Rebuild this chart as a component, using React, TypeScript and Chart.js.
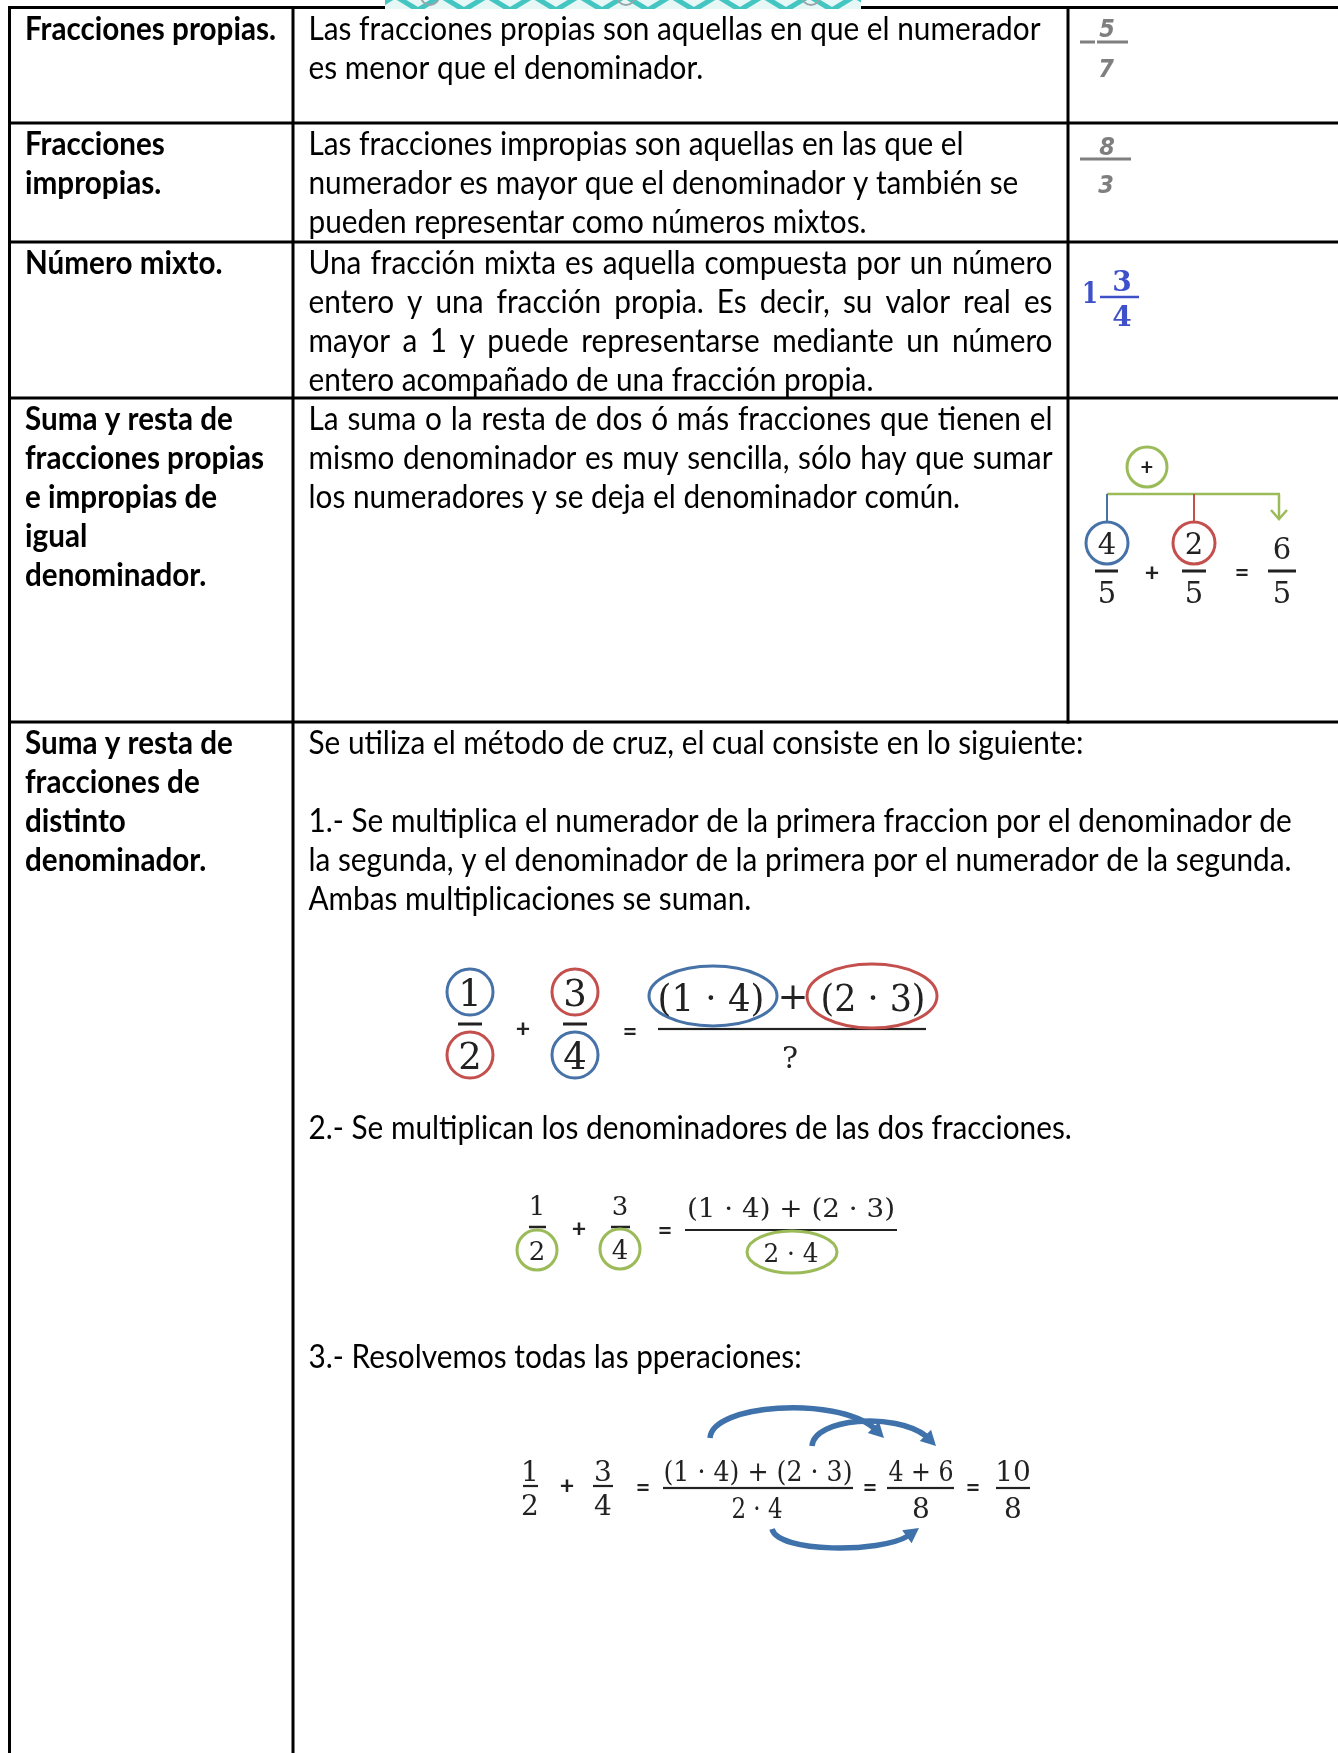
import React, { useEffect, useRef } from "react";
import { Chart, registerables } from "chart.js";

Chart.register(...registerables);

const W = 1338;
const H = 1753;

// ---------- DATA ----------
const rowLabels: string[][] = [
  ["Fracciones propias."],
  ["Fracciones", "impropias."],
  ["Número mixto."],
  ["Suma y resta de", "fracciones propias", "e impropias de", "igual", "denominador."],
  ["Suma y resta de", "fracciones de", "distinto", "denominador."],
];

const rowDescriptions: string[][] = [
  ["Las fracciones propias son aquellas en que el numerador", "es menor que el denominador."],
  [
    "Las fracciones impropias son aquellas en las que el",
    "numerador es mayor que el denominador y también se",
    "pueden representar como números mixtos.",
  ],
  [
    "Una fracción mixta es aquella compuesta por un número",
    "entero y una fracción propia. Es decir, su valor real es",
    "mayor a 1 y puede representarse mediante un número",
    "entero acompañado de una fracción propia.",
  ],
  [
    "La suma o la resta de dos ó más fracciones que tienen el",
    "mismo denominador es muy sencilla, sólo hay que sumar",
    "los numeradores y se deja el denominador común.",
  ],
];
const justifiedRows: boolean[] = [false, false, true, true];

const crossIntro: string[] = ["Se utiliza el método de cruz, el cual consiste en lo siguiente:"];
const crossStep1: string[] = [
  "1.- Se multiplica el numerador de la primera fraccion por el denominador de",
  "la segunda, y el denominador de la primera por el numerador de la segunda.",
  "Ambas multiplicaciones se suman.",
];
const crossStep2: string[] = ["2.- Se multiplican los denominadores de las dos fracciones."];
const crossStep3: string[] = ["3.- Resolvemos todas las pperaciones:"];

const properFraction: number[] = [5, 7];
const improperFraction: number[] = [8, 3];
const mixedNumber: number[] = [1, 3, 4];
const sameDenA: number[] = [4, 5];
const sameDenB: number[] = [2, 5];
const crossA: number[] = [1, 2];
const crossB: number[] = [3, 4];

// ---------- LAYOUT ----------
const colX = [9.5, 293, 1068];
const rowY = [7.5, 123, 242, 398, 722];
const LINE = 39.1;
const REG = '32px Lato';
const BOLD = 'bold 32px Lato';
const MATH = '"DejaVu Serif"';
const SIGN = 'bold 25px Lato';
const INK = '#222';
const BLUE = '#4672a8';
const RED = '#c4504e';
const GREEN = '#9bbb59';
const ARROW = '#3f72aa';

const docPlugin = {
  id: 'docTable',
  beforeDraw(chart: any) {
    const ctx = chart.ctx as CanvasRenderingContext2D;
    ctx.save();
    ctx.fillStyle = '#fff';
    ctx.fillRect(0, 0, chart.width, chart.height);
    ctx.restore();
  },
  afterDraw(chart: any) {
    const ctx = chart.ctx as CanvasRenderingContext2D;
    const xs = chart.scales.x;
    const ys = chart.scales.y;
    const X = (v: number) => xs.getPixelForValue(v);
    const Y = (v: number) => ys.getPixelForValue(v);

    ctx.save();
    ctx.font = REG;
    const regScale = 732 / ctx.measureText(rowDescriptions[0][0]).width;
    ctx.font = BOLD;
    const boldScale = 251 / ctx.measureText(rowLabels[0][0]).width;

    const txt = (s: string, x: number, y: number, font: string, sc: number, color = '#000', align: CanvasTextAlign = 'left') => {
      ctx.save();
      ctx.font = font;
      ctx.fillStyle = color;
      ctx.textBaseline = 'alphabetic';
      ctx.textAlign = align;
      ctx.translate(X(x), Y(y));
      ctx.scale(sc, 1);
      ctx.fillText(s, 0, 0);
      ctx.restore();
    };
    const justify = (s: string, x: number, y: number, width: number, font: string, sc: number) => {
      ctx.font = font;
      const words = s.split(' ');
      const ww = words.map((w) => ctx.measureText(w).width * sc);
      const total = ww.reduce((a, b) => a + b, 0);
      const gap = (width - total) / (words.length - 1);
      let cx = x;
      words.forEach((w, i) => {
        txt(w, cx, y, font, sc);
        cx += ww[i] + gap;
      });
    };
    const mc = (s: string, cx: number, cy: number, font: string, color = INK, targetW = 0, ref = '0') => {
      ctx.save();
      ctx.font = font;
      const m = ctx.measureText(ref);
      const base = cy + (m.actualBoundingBoxAscent - m.actualBoundingBoxDescent) / 2;
      const w = ctx.measureText(s).width;
      const sc = targetW > 0 ? targetW / w : 1;
      ctx.fillStyle = color;
      ctx.textAlign = 'center';
      ctx.textBaseline = 'alphabetic';
      ctx.translate(X(cx), Y(base));
      ctx.scale(sc, 1);
      ctx.fillText(s, 0, 0);
      ctx.restore();
    };
    const hbar = (x1: number, x2: number, y: number, t: number, c: string) => {
      ctx.fillStyle = c;
      ctx.fillRect(X(x1), Y(y) - t / 2, X(x2) - X(x1), t);
    };
    const vbar = (x: number, y1: number, y2: number, t: number, c: string) => {
      ctx.fillStyle = c;
      ctx.fillRect(X(x) - t / 2, Y(y1), t, Y(y2) - Y(y1));
    };
    const ell = (cx: number, cy: number, rx: number, ry: number, c: string, lw = 3) => {
      ctx.beginPath();
      ctx.ellipse(X(cx), Y(cy), rx, ry, 0, 0, Math.PI * 2);
      ctx.strokeStyle = c;
      ctx.lineWidth = lw;
      ctx.stroke();
    };
    const seg = (pts: number[][], c: string, lw: number) => {
      ctx.beginPath();
      pts.forEach((p, i) => (i ? ctx.lineTo(X(p[0]), Y(p[1])) : ctx.moveTo(X(p[0]), Y(p[1]))));
      ctx.strokeStyle = c;
      ctx.lineWidth = lw;
      ctx.stroke();
    };
    const curvedArrow = (p: number[][], tip: number[]) => {
      ctx.save();
      ctx.beginPath();
      ctx.moveTo(X(p[0][0]), Y(p[0][1]));
      ctx.bezierCurveTo(X(p[1][0]), Y(p[1][1]), X(p[2][0]), Y(p[2][1]), X(p[3][0]), Y(p[3][1]));
      ctx.strokeStyle = ARROW;
      ctx.lineWidth = 5.5;
      ctx.lineCap = 'butt';
      ctx.stroke();
      const a = Math.atan2(tip[1] - p[3][1], tip[0] - p[3][0]);
      const len = 15;
      const half = 8;
      const tx = X(tip[0]);
      const ty = Y(tip[1]);
      const bx = tx - len * Math.cos(a);
      const by = ty - len * Math.sin(a);
      ctx.beginPath();
      ctx.moveTo(tx, ty);
      ctx.lineTo(bx + half * Math.sin(a), by - half * Math.cos(a));
      ctx.lineTo(bx - half * Math.sin(a), by + half * Math.cos(a));
      ctx.closePath();
      ctx.fillStyle = ARROW;
      ctx.fill();
      ctx.restore();
    };

    // ---- table grid ----
    rowY.forEach((y) => hbar(8, W, y, 3, '#000'));
    vbar(colX[0], 6, H, 3, '#000');
    vbar(colX[1], 6, H, 3, '#000');
    vbar(colX[2], 6, rowY[4] + 1.5, 3, '#000');

    // ---- teal decoration at top ----
    ctx.save();
    ctx.beginPath();
    ctx.rect(X(385), Y(0), X(861) - X(385), Y(9) - Y(0));
    ctx.clip();
    ctx.fillStyle = '#e6f7f6';
    ctx.fillRect(X(385), Y(0), X(861) - X(385), Y(9) - Y(0));
    for (let x0 = 372; x0 < 880; x0 += 46) {
      seg([[x0, 10], [x0 + 23, -4], [x0 + 46, 10]], '#43c6c2', 5);
    }
    [430, 626, 811].forEach((cx) => {
      ctx.beginPath();
      ctx.arc(X(cx), Y(-4), 9, 0, Math.PI * 2);
      ctx.strokeStyle = '#9aa5a8';
      ctx.lineWidth = 2;
      ctx.stroke();
    });
    ctx.restore();

    // ---- left column labels ----
    rowLabels.forEach((lines, r) => {
      lines.forEach((s, i) => txt(s, 25, rowY[r] + 32 + i * LINE, BOLD, boldScale));
    });

    // ---- middle column ----
    rowDescriptions.forEach((lines, r) => {
      lines.forEach((s, i) => {
        const y = rowY[r] + 32 + i * LINE;
        if (justifiedRows[r] && i < lines.length - 1) justify(s, 308.5, y, 744, REG, regScale);
        else txt(s, 308.5, y, REG, regScale);
      });
    });
    const b5 = rowY[4] + 32;
    crossIntro.forEach((s, i) => txt(s, 308.5, b5 + i * LINE, REG, regScale));
    crossStep1.forEach((s, i) => txt(s, 308.5, b5 + (i + 2) * LINE, REG, regScale));
    crossStep2.forEach((s, i) => txt(s, 308.5, 1139 + i * LINE, REG, regScale));
    crossStep3.forEach((s, i) => txt(s, 308.5, 1368 + i * LINE, REG, regScale));

    // ---- right column: proper / improper ----
    const GRAY = '#7f7f7f';
    const FR = 'bold italic 25px "DejaVu Sans"';
    txt(String(properFraction[0]), 1107, 37, FR, 0.9, GRAY, 'center');
    hbar(1080, 1095, 42, 3, GRAY);
    hbar(1097, 1128, 42, 3, GRAY);
    txt(String(properFraction[1]), 1106, 77, FR, 0.9, GRAY, 'center');
    txt(String(improperFraction[0]), 1107, 155, FR, 0.9, GRAY, 'center');
    hbar(1080, 1131, 159, 3, GRAY);
    txt(String(improperFraction[1]), 1106, 193, FR, 0.9, GRAY, 'center');

    // ---- mixed number ----
    const MB = '#3f51c9';
    mc(String(mixedNumber[0]), 1090, 292, `bold 29px ${MATH}`, MB, 16);
    mc(String(mixedNumber[1]), 1122, 280, `bold 28px ${MATH}`, MB);
    hbar(1100, 1139, 297, 2.5, MB);
    mc(String(mixedNumber[2]), 1122, 315, `bold 28px ${MATH}`, MB);

    // ---- same denominator figure ----
    const F29 = `29px ${MATH}`;
    ell(1147, 467, 20, 20, GREEN, 3);
    mc('+', 1147, 467, 'bold 22px Lato', INK, 0, '+');
    hbar(1107, 1280, 494, 2.5, GREEN);
    vbar(1279, 494, 517, 2.5, GREEN);
    seg([[1271, 510], [1279, 519], [1287, 510]], GREEN, 2.5);
    vbar(1107, 494, 522, 2, BLUE);
    vbar(1194, 494, 522, 2, RED);
    ell(1107, 543, 21, 21, BLUE, 3);
    ell(1194, 543, 21, 21, RED, 3);
    mc(String(sameDenA[0]), 1107, 543, F29);
    hbar(1095, 1118, 571, 3, INK);
    mc(String(sameDenA[1]), 1107, 592, F29);
    mc('+', 1152, 572, SIGN, INK, 0, '+');
    mc(String(sameDenB[0]), 1194, 543, F29);
    hbar(1182, 1206, 571, 3, INK);
    mc(String(sameDenB[1]), 1194, 592, F29);
    mc('=', 1242, 572, SIGN, INK, 0, '=');
    mc(String(sameDenA[0] + sameDenB[0]), 1282, 548, F29);
    hbar(1268, 1296, 571, 3, INK);
    mc(String(sameDenA[1]), 1282, 592, F29);

    // ---- cross method: equation 1 ----
    const p1 = `(${crossA[0]} · ${crossB[1]})`;
    const p2 = `(${crossA[1]} · ${crossB[0]})`;
    const F36 = `37px ${MATH}`;
    ell(470, 992, 23, 23, BLUE, 3);
    ell(470, 1055, 23, 23, RED, 3);
    mc(String(crossA[0]), 470, 992, F36);
    hbar(458, 482, 1024, 3, INK);
    mc(String(crossA[1]), 470, 1055, F36);
    mc('+', 523, 1028, SIGN, INK, 0, '+');
    ell(575, 992, 23, 23, RED, 3);
    ell(575, 1055, 23, 23, BLUE, 3);
    mc(String(crossB[0]), 575, 992, F36);
    hbar(563, 587, 1024, 3, INK);
    mc(String(crossB[1]), 575, 1055, F36);
    mc('=', 630, 1031, SIGN, INK, 0, '=');
    hbar(658, 926, 1029, 2.2, INK);
    ell(713, 996, 64, 30, BLUE, 3);
    ell(872, 996, 65, 32, RED, 3);
    mc(p1, 711, 997, F36, INK, 107);
    mc('+', 793, 997, F36, INK, 0, '+');
    mc(p2, 873, 997, F36, INK, 105);
    mc('?', 790, 1057, `30px ${MATH}`, INK, 0, '?');

    // ---- equation 2 ----
    const F25 = `26px ${MATH}`;
    const num = `${p1} + ${p2}`;
    const den = `${crossA[1]} · ${crossB[1]}`;
    mc(String(crossA[0]), 537, 1205, F25);
    hbar(529, 546, 1227, 2.5, INK);
    ell(537, 1250, 20, 20, GREEN, 3);
    mc(String(crossA[1]), 537, 1250, F25);
    mc('+', 579, 1228, SIGN, INK, 0, '+');
    mc(String(crossB[0]), 620, 1205, F25);
    hbar(611, 630, 1227, 2.5, INK);
    ell(620, 1249, 20, 20, GREEN, 3);
    mc(String(crossB[1]), 620, 1249, F25);
    mc('=', 665, 1230, SIGN, INK, 0, '=');
    hbar(685, 897, 1230, 2, INK);
    mc(num, 791, 1207, F25, INK, 208);
    ell(792, 1252, 45, 21, GREEN, 3);
    mc(den, 791, 1252, F25, INK, 55);

    // ---- equation 3 ----
    const F27b = `28px ${MATH}`;
    const prodA = crossA[0] * crossB[1];
    const prodB = crossA[1] * crossB[0];
    const prodDen = crossA[1] * crossB[1];
    mc(String(crossA[0]), 530, 1470, F27b);
    hbar(523, 538, 1486, 2.2, INK);
    mc(String(crossA[1]), 530, 1504, F27b);
    mc('+', 567, 1485, SIGN, INK, 0, '+');
    mc(String(crossB[0]), 603, 1470, F27b);
    hbar(593, 613, 1486, 2.2, INK);
    mc(String(crossB[1]), 603, 1504, F27b);
    mc('=', 643, 1487, SIGN, INK, 0, '=');
    hbar(663, 853, 1488, 2.2, INK);
    mc(num, 758, 1470, F27b, INK, 189);
    mc(den, 757, 1507, F27b, INK, 51);
    mc('=', 870, 1487, SIGN, INK, 0, '=');
    hbar(887, 954, 1488, 2.2, INK);
    mc(`${prodA} + ${prodB}`, 921, 1470, F27b, INK, 65);
    mc(String(prodDen), 921, 1507, F27b);
    mc('=', 973, 1487, SIGN, INK, 0, '=');
    hbar(996, 1030, 1488, 2.2, INK);
    mc(String(prodA + prodB), 1013, 1470, F27b);
    mc(String(prodDen), 1013, 1507, F27b);

    curvedArrow([[710, 1438], [712, 1404], [835, 1396], [874, 1428]], [884, 1438]);
    curvedArrow([[812, 1446], [814, 1418], [895, 1412], [926, 1436]], [936, 1446]);
    curvedArrow([[772, 1529], [778, 1553], [880, 1553], [908, 1536]], [919, 1528]);

    ctx.restore();
  },
};

export default function App() {
  const ref = useRef<HTMLCanvasElement>(null);
  useEffect(() => {
    if (!ref.current) return;
    const chart = new Chart(ref.current, {
      type: 'scatter',
      data: { datasets: [{ data: [] }] },
      options: {
        responsive: false,
        animation: false,
        devicePixelRatio: 1,
        events: [],
        layout: { padding: 0 },
        plugins: { legend: { display: false }, tooltip: { enabled: false } },
        scales: {
          x: { type: 'linear', min: 0, max: W, display: false },
          y: { type: 'linear', min: 0, max: H, reverse: true, display: false },
        },
      },
      plugins: [docPlugin],
    } as any);
    let alive = true;
    const fonts = [REG, BOLD, SIGN, 'bold italic 25px "DejaVu Sans"', `28px ${MATH}`, `bold 28px ${MATH}`];
    Promise.all(fonts.map((f) => document.fonts.load(f).catch(() => null))).then(() => {
      if (alive) chart.draw();
    });
    return () => {
      alive = false;
      chart.destroy();
    };
  }, []);
  return (
    <div style={{ position: 'fixed', left: 0, top: 0, width: W, height: H, background: '#fff' }}>
      <canvas ref={ref} width={W} height={H} style={{ display: 'block', width: W, height: H }} />
    </div>
  );
}
